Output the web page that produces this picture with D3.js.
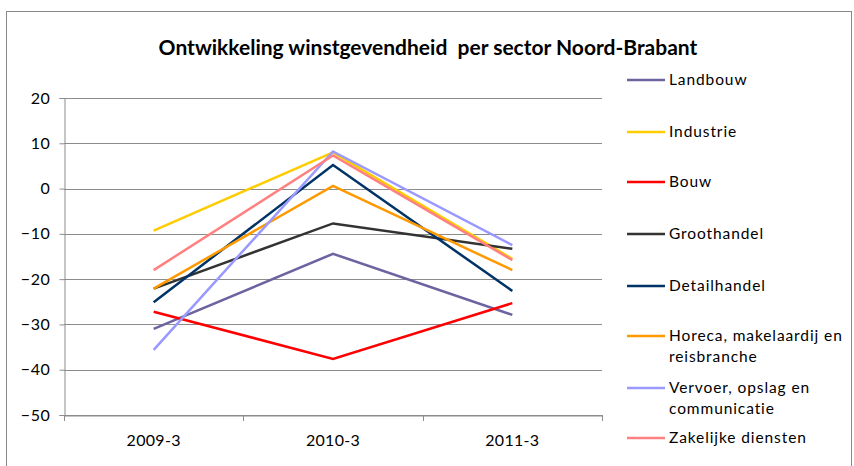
<!DOCTYPE html>
<html>
<head>
<meta charset="utf-8">
<script src="https://cdn.jsdelivr.net/npm/d3@7"></script>
<style>
  body { margin: 0; background: #fff; }
  svg { display: block; font-family: "Lato", "Open Sans", sans-serif; }
</style>
</head>
<body>
<svg id="chart" width="854" height="466"></svg>
<script>
const categories = ["2009-3", "2010-3", "2011-3"];
const seriesNames = ["Landbouw", "Industrie", "Bouw", "Groothandel", "Detailhandel",
  "Horeca, makelaardij en reisbranche", "Vervoer, opslag en communicatie", "Zakelijke diensten"];
const legendLines = [["Landbouw"], ["Industrie"], ["Bouw"], ["Groothandel"], ["Detailhandel"],
  ["Horeca, makelaardij en", "reisbranche"], ["Vervoer, opslag en", "communicatie"], ["Zakelijke diensten"]];
const colors = ["#6B64A0", "#FFCC00", "#FF0000", "#333333", "#003366", "#FF9900", "#9999FF", "#FF8080"];
const landbouw = [-31.0, -14.4, -27.9];
const industrie = [-9.3, 8.0, -15.5];
const bouw = [-27.2, -37.6, -25.3];
const groothandel = [-22.1, -7.7, -13.3];
const detailhandel = [-25.1, 5.2, -22.6];
const horeca = [-22.1, 0.6, -18.0];
const vervoer = [-35.6, 8.2, -12.5];
const zakelijk = [-18.0, 7.3, -15.8];
const yTicks = [20, 10, 0, -10, -20, -30, -40, -50];

const values = [landbouw, industrie, bouw, groothandel, detailhandel, horeca, vervoer, zakelijk];

const svg = d3.select('#chart');

// chart frame
svg.append('rect')
  .attr('x', 6.5).attr('y', 11.5)
  .attr('width', 845).attr('height', 470)
  .attr('fill', 'none')
  .attr('stroke', '#888')
  .attr('stroke-width', 1);

// Title (keeps the double space of the original)
svg.append('text')
  .attr('x', 428).attr('y', 55)
  .attr('text-anchor', 'middle')
  .attr('font-size', '21px')
  .attr('font-weight', 'bold')
  .attr('fill', '#000')
  .style('white-space', 'pre')
  .text('Ontwikkeling winstgevendheid  per sector Noord-Brabant');

const plotLeft = 64, plotRight = 602, plotTop = 98, plotBottom = 415;

const x = d3.scaleBand().domain(categories).range([plotLeft, plotRight]);
const y = d3.scaleLinear().domain([-50, 20]).range([plotBottom, plotTop]);

// gridlines
svg.append('g')
  .selectAll('line')
  .data(yTicks)
  .join('line')
  .attr('x1', plotLeft).attr('x2', plotRight)
  .attr('y1', d => Math.round(y(d)) + 0.5)
  .attr('y2', d => Math.round(y(d)) + 0.5)
  .attr('stroke', '#8c8c8c')
  .attr('stroke-width', 1);

// y axis
const yAxis = svg.append('g')
  .attr('transform', `translate(${plotLeft + 0.5},0)`)
  .call(d3.axisLeft(y).tickValues(yTicks).tickSize(5).tickPadding(9).tickFormat(d3.format('d')));
yAxis.select('.domain').attr('stroke', '#8c8c8c');
yAxis.selectAll('.tick line').attr('stroke', '#8c8c8c');
yAxis.selectAll('.tick text')
  .attr('font-size', '16px')
  .attr('letter-spacing', '0.6px')
  .attr('fill', '#000')
  .attr('font-family', 'Lato, sans-serif');

// x axis
const xAxis = svg.append('g')
  .attr('transform', `translate(0,${Math.round(plotBottom) + 0.5})`)
  .call(d3.axisBottom(x).tickSize(0).tickPadding(19));
xAxis.select('.domain').attr('stroke', '#8c8c8c');
xAxis.selectAll('.tick text')
  .attr('font-size', '16px')
  .attr('letter-spacing', '0.3px')
  .attr('fill', '#000')
  .attr('font-family', 'Lato, sans-serif');
// category separator ticks
const bounds = [plotLeft, ...categories.map(c => x(c) + x.bandwidth())];
svg.append('g')
  .selectAll('line')
  .data(bounds)
  .join('line')
  .attr('x1', d => Math.round(d) + 0.5).attr('x2', d => Math.round(d) + 0.5)
  .attr('y1', plotBottom).attr('y2', plotBottom + 6)
  .attr('stroke', '#8c8c8c');

// lines
const line = d3.line()
  .x((d, i) => x(categories[i]) + x.bandwidth() / 2)
  .y(d => y(d));

svg.append('g')
  .selectAll('path')
  .data(values)
  .join('path')
  .attr('d', d => line(d))
  .attr('fill', 'none')
  .attr('stroke', (d, i) => colors[i])
  .attr('stroke-width', 2.5)
  .attr('stroke-linejoin', 'miter');

// legend
const legendY = [80, 132, 182, 234, 286, 336, 388, 438];
const legend = svg.append('g');
seriesNames.forEach((name, i) => {
  const g = legend.append('g').attr('transform', `translate(0,${legendY[i]})`);
  g.append('line')
    .attr('x1', 627).attr('x2', 665)
    .attr('y1', 0).attr('y2', 0)
    .attr('stroke', colors[i])
    .attr('stroke-width', 2.5);
  legendLines[i].forEach((t, j) => {
    g.append('text')
      .attr('x', 669)
      .attr('y', j * 20.5)
      .attr('dy', '0.35em')
      .attr('font-size', '15.5px')
      .attr('letter-spacing', '0.9px')
      .attr('fill', '#000')
      .text(t);
  });
});
</script>
</body>
</html>
